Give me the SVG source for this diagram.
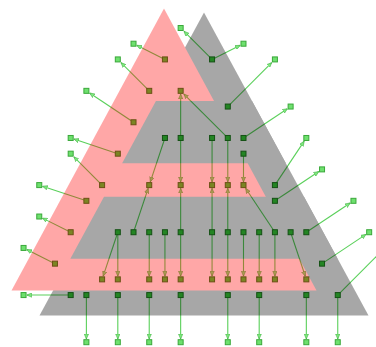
<svg xmlns="http://www.w3.org/2000/svg" width="376" height="347" viewBox="0 0 376 347">
<style>
.nd{fill:#36cc36;stroke:#1f7a1f;stroke-width:1}
.lf{fill:#6ee06e;stroke:#3aa83a;stroke-width:1}
.ed{fill:none;stroke:#5ad05a;stroke-width:1.1;marker-end:url(#ah)}
</style>
<defs>
<marker id="ah" viewBox="0 0 6 6" refX="6" refY="3" markerWidth="5" markerHeight="5" orient="auto" markerUnits="userSpaceOnUse">
<path d="M0,0.4 L6,3 L0,5.6 Z" fill="#7ee87e" stroke="#3aa83a" stroke-width="0.6"/>
</marker>
<filter id="soft" x="-5%" y="-5%" width="110%" height="110%"><feGaussianBlur stdDeviation="0.6"/></filter>
</defs>
<rect width="376" height="347" fill="#ffffff"/>
<g id="graph">
<g id="connectors">
<path class="ed" d="M212.07,59.42 L183.85,31.2"/>
<path class="ed" d="M212.07,59.42 L240.29,45.31"/>
<path class="ed" d="M164.94,59.42 L136.72,45.31"/>
<path class="ed" d="M149.23,90.84 L121.01,62.62"/>
<path class="ed" d="M227.78,106.55 L271.71,62.62"/>
<path class="ed" d="M133.52,122.26 L89.59,92.97"/>
<path class="ed" d="M180.65,137.97 L180.65,94.04"/>
<path class="ed" d="M227.78,137.97 L183.85,94.04"/>
<path class="ed" d="M243.49,137.97 L287.42,108.68"/>
<path class="ed" d="M117.81,153.68 L73.88,139.04"/>
<path class="ed" d="M102.1,185.1 L73.88,156.88"/>
<path class="ed" d="M86.39,200.81 L42.46,186.17"/>
<path class="ed" d="M70.68,232.23 L42.46,218.12"/>
<path class="ed" d="M54.97,263.65 L26.75,249.54"/>
<path class="ed" d="M70.68,295.07 L26.75,295.07"/>
<path class="ed" d="M164.94,137.97 L150.3,181.9"/>
<path class="ed" d="M180.65,137.97 L180.65,181.9"/>
<path class="ed" d="M212.07,137.97 L212.07,181.9"/>
<path class="ed" d="M227.78,137.97 L227.78,181.9"/>
<path class="ed" d="M243.49,153.68 L243.49,181.9"/>
<path class="ed" d="M133.52,232.23 L148.16,188.3"/>
<path class="ed" d="M180.65,232.23 L180.65,188.3"/>
<path class="ed" d="M212.07,232.23 L212.07,188.3"/>
<path class="ed" d="M227.78,232.23 L227.78,188.3"/>
<path class="ed" d="M274.91,232.23 L245.62,188.3"/>
<path class="ed" d="M274.91,185.1 L304.2,141.17"/>
<path class="ed" d="M274.91,200.81 L318.84,171.52"/>
<path class="ed" d="M306.33,232.23 L350.26,202.94"/>
<path class="ed" d="M322.04,263.65 L365.97,234.36"/>
<path class="ed" d="M337.75,295.07 L381.68,251.14"/>
<path class="ed" d="M117.81,232.23 L103.17,276.16"/>
<path class="ed" d="M117.81,232.23 L117.81,276.16"/>
<path class="ed" d="M149.23,232.23 L149.23,276.16"/>
<path class="ed" d="M164.94,232.23 L164.94,276.16"/>
<path class="ed" d="M180.65,232.23 L180.65,276.16"/>
<path class="ed" d="M212.07,232.23 L212.07,276.16"/>
<path class="ed" d="M227.78,232.23 L227.78,276.16"/>
<path class="ed" d="M243.49,232.23 L243.49,276.16"/>
<path class="ed" d="M259.2,232.23 L259.2,276.16"/>
<path class="ed" d="M274.91,232.23 L274.91,276.16"/>
<path class="ed" d="M290.62,232.23 L305.26,276.16"/>
<path class="ed" d="M86.39,295.07 L86.39,339"/>
<path class="ed" d="M117.81,295.07 L117.81,339"/>
<path class="ed" d="M149.23,295.07 L149.23,339"/>
<path class="ed" d="M180.65,295.07 L180.65,339"/>
<path class="ed" d="M227.78,295.07 L227.78,339"/>
<path class="ed" d="M259.2,295.07 L259.2,339"/>
<path class="ed" d="M306.33,295.07 L306.33,339"/>
<path class="ed" d="M337.75,295.07 L337.75,339"/>
</g>
<g id="nodes">
<g id="n11_0"><rect class="lf" x="178.15" y="25.5" width="5" height="5"/></g>
<g id="n8_1"><rect class="lf" x="131.02" y="41.21" width="5" height="5"/></g>
<g id="n15_1"><rect class="lf" x="240.99" y="41.21" width="5" height="5"/></g>
<g id="n7_2"><rect class="lf" x="115.31" y="56.92" width="5" height="5"/></g>
<g id="n10_2"><rect class="nd" x="162.44" y="56.92" width="5" height="5"/></g>
<g id="n13_2"><rect class="nd" x="209.57" y="56.92" width="5" height="5"/></g>
<g id="n17_2"><rect class="lf" x="272.41" y="56.92" width="5" height="5"/></g>
<g id="n5_4"><rect class="lf" x="83.89" y="88.34" width="5" height="5"/></g>
<g id="n9_4"><rect class="nd" x="146.73" y="88.34" width="5" height="5"/></g>
<g id="n11_4"><rect class="nd" x="178.15" y="88.34" width="5" height="5"/></g>
<g id="n14_5"><rect class="nd" x="225.28" y="104.05" width="5" height="5"/></g>
<g id="n18_5"><rect class="lf" x="288.12" y="104.05" width="5" height="5"/></g>
<g id="n8_6"><rect class="nd" x="131.02" y="119.76" width="5" height="5"/></g>
<g id="n4_7"><rect class="lf" x="68.18" y="135.47" width="5" height="5"/></g>
<g id="n10_7"><rect class="nd" x="162.44" y="135.47" width="5" height="5"/></g>
<g id="n11_7"><rect class="nd" x="178.15" y="135.47" width="5" height="5"/></g>
<g id="n13_7"><rect class="nd" x="209.57" y="135.47" width="5" height="5"/></g>
<g id="n14_7"><rect class="nd" x="225.28" y="135.47" width="5" height="5"/></g>
<g id="n15_7"><rect class="nd" x="240.99" y="135.47" width="5" height="5"/></g>
<g id="n19_7"><rect class="lf" x="303.83" y="135.47" width="5" height="5"/></g>
<g id="n4_8"><rect class="lf" x="68.18" y="151.18" width="5" height="5"/></g>
<g id="n7_8"><rect class="nd" x="115.31" y="151.18" width="5" height="5"/></g>
<g id="n15_8"><rect class="nd" x="240.99" y="151.18" width="5" height="5"/></g>
<g id="n20_9"><rect class="lf" x="319.54" y="166.89" width="5" height="5"/></g>
<g id="n2_10"><rect class="lf" x="36.76" y="182.6" width="5" height="5"/></g>
<g id="n6_10"><rect class="nd" x="99.6" y="182.6" width="5" height="5"/></g>
<g id="n9_10"><rect class="nd" x="146.73" y="182.6" width="5" height="5"/></g>
<g id="n11_10"><rect class="nd" x="178.15" y="182.6" width="5" height="5"/></g>
<g id="n13_10"><rect class="nd" x="209.57" y="182.6" width="5" height="5"/></g>
<g id="n14_10"><rect class="nd" x="225.28" y="182.6" width="5" height="5"/></g>
<g id="n15_10"><rect class="nd" x="240.99" y="182.6" width="5" height="5"/></g>
<g id="n17_10"><rect class="nd" x="272.41" y="182.6" width="5" height="5"/></g>
<g id="n5_11"><rect class="nd" x="83.89" y="198.31" width="5" height="5"/></g>
<g id="n17_11"><rect class="nd" x="272.41" y="198.31" width="5" height="5"/></g>
<g id="n22_11"><rect class="lf" x="350.96" y="198.31" width="5" height="5"/></g>
<g id="n2_12"><rect class="lf" x="36.76" y="214.02" width="5" height="5"/></g>
<g id="n4_13"><rect class="nd" x="68.18" y="229.73" width="5" height="5"/></g>
<g id="n7_13"><rect class="nd" x="115.31" y="229.73" width="5" height="5"/></g>
<g id="n8_13"><rect class="nd" x="131.02" y="229.73" width="5" height="5"/></g>
<g id="n9_13"><rect class="nd" x="146.73" y="229.73" width="5" height="5"/></g>
<g id="n10_13"><rect class="nd" x="162.44" y="229.73" width="5" height="5"/></g>
<g id="n11_13"><rect class="nd" x="178.15" y="229.73" width="5" height="5"/></g>
<g id="n13_13"><rect class="nd" x="209.57" y="229.73" width="5" height="5"/></g>
<g id="n14_13"><rect class="nd" x="225.28" y="229.73" width="5" height="5"/></g>
<g id="n15_13"><rect class="nd" x="240.99" y="229.73" width="5" height="5"/></g>
<g id="n16_13"><rect class="nd" x="256.7" y="229.73" width="5" height="5"/></g>
<g id="n17_13"><rect class="nd" x="272.41" y="229.73" width="5" height="5"/></g>
<g id="n18_13"><rect class="nd" x="288.12" y="229.73" width="5" height="5"/></g>
<g id="n19_13"><rect class="nd" x="303.83" y="229.73" width="5" height="5"/></g>
<g id="n23_13"><rect class="lf" x="366.67" y="229.73" width="5" height="5"/></g>
<g id="n1_14"><rect class="lf" x="21.05" y="245.44" width="5" height="5"/></g>
<g id="n3_15"><rect class="nd" x="52.47" y="261.15" width="5" height="5"/></g>
<g id="n20_15"><rect class="nd" x="319.54" y="261.15" width="5" height="5"/></g>
<g id="n6_16"><rect class="nd" x="99.6" y="276.86" width="5" height="5"/></g>
<g id="n7_16"><rect class="nd" x="115.31" y="276.86" width="5" height="5"/></g>
<g id="n9_16"><rect class="nd" x="146.73" y="276.86" width="5" height="5"/></g>
<g id="n10_16"><rect class="nd" x="162.44" y="276.86" width="5" height="5"/></g>
<g id="n11_16"><rect class="nd" x="178.15" y="276.86" width="5" height="5"/></g>
<g id="n13_16"><rect class="nd" x="209.57" y="276.86" width="5" height="5"/></g>
<g id="n14_16"><rect class="nd" x="225.28" y="276.86" width="5" height="5"/></g>
<g id="n15_16"><rect class="nd" x="240.99" y="276.86" width="5" height="5"/></g>
<g id="n16_16"><rect class="nd" x="256.7" y="276.86" width="5" height="5"/></g>
<g id="n17_16"><rect class="nd" x="272.41" y="276.86" width="5" height="5"/></g>
<g id="n19_16"><rect class="nd" x="303.83" y="276.86" width="5" height="5"/></g>
<g id="n1_17"><rect class="lf" x="21.05" y="292.57" width="5" height="5"/></g>
<g id="n4_17"><rect class="nd" x="68.18" y="292.57" width="5" height="5"/></g>
<g id="n5_17"><rect class="nd" x="83.89" y="292.57" width="5" height="5"/></g>
<g id="n7_17"><rect class="nd" x="115.31" y="292.57" width="5" height="5"/></g>
<g id="n9_17"><rect class="nd" x="146.73" y="292.57" width="5" height="5"/></g>
<g id="n11_17"><rect class="nd" x="178.15" y="292.57" width="5" height="5"/></g>
<g id="n14_17"><rect class="nd" x="225.28" y="292.57" width="5" height="5"/></g>
<g id="n16_17"><rect class="nd" x="256.7" y="292.57" width="5" height="5"/></g>
<g id="n19_17"><rect class="nd" x="303.83" y="292.57" width="5" height="5"/></g>
<g id="n21_17"><rect class="nd" x="335.25" y="292.57" width="5" height="5"/></g>
<g id="n5_20"><rect class="lf" x="83.89" y="339.7" width="5" height="5"/></g>
<g id="n7_20"><rect class="lf" x="115.31" y="339.7" width="5" height="5"/></g>
<g id="n9_20"><rect class="lf" x="146.73" y="339.7" width="5" height="5"/></g>
<g id="n11_20"><rect class="lf" x="178.15" y="339.7" width="5" height="5"/></g>
<g id="n14_20"><rect class="lf" x="225.28" y="339.7" width="5" height="5"/></g>
<g id="n16_20"><rect class="lf" x="256.7" y="339.7" width="5" height="5"/></g>
<g id="n19_20"><rect class="lf" x="303.83" y="339.7" width="5" height="5"/></g>
<g id="n21_20"><rect class="lf" x="335.25" y="339.7" width="5" height="5"/></g>
</g>
</g>
<g id="shapes" opacity="0.34" filter="url(#soft)">
<polygon points="204,12.5 39.5,315.5 368.5,315.5" fill="#000000"/>
<polygon points="164,8.5 11.5,290.5 316.5,290.5" fill="#ff0000"/>
<polygon points="155.95,101 252.05,101 285.87,163.3 122.13,163.3" fill="#000000"/>
<polygon points="104,196.7 304,196.7 337.66,258.7 70.34,258.7" fill="#000000"/>
</g>
</svg>
